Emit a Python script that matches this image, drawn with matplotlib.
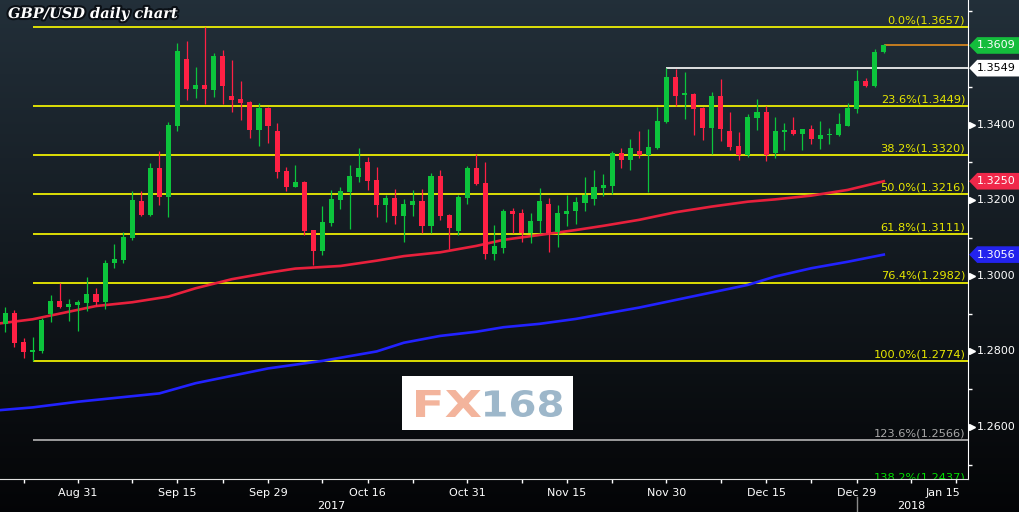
import numpy as np
import pandas as pd
import matplotlib
matplotlib.use('Agg')
import matplotlib.pyplot as plt
import matplotlib.patheffects as pe
from matplotlib.patches import Polygon, Rectangle, PathPatch
from matplotlib.textpath import TextPath
from matplotlib.font_manager import FontProperties
from matplotlib.transforms import blended_transform_factory, Affine2D

# GBP/USD daily candles, 21 Aug 2017 - 3 Jan 2018
opens = [1.2872, 1.2901, 1.2824, 1.2799, 1.2800, 1.2899, 1.2933, 1.2917, 1.2924, 1.2929,
         1.2952, 1.2931, 1.3034, 1.3042, 1.3101, 1.3198, 1.3161, 1.3285, 1.3209, 1.3397,
         1.3573, 1.3495, 1.3504, 1.3492, 1.3581, 1.3475, 1.3467, 1.3459, 1.3385, 1.3444,
         1.3383, 1.3277, 1.3236, 1.3248, 1.3121, 1.3066, 1.3140, 1.3200, 1.3222, 1.3261,
         1.3301, 1.3253, 1.3187, 1.3206, 1.3158, 1.3187, 1.3198, 1.3132, 1.3264, 1.3161,
         1.3118, 1.3206, 1.3285, 1.3245, 1.3058, 1.3073, 1.3171, 1.3166, 1.3113, 1.3145,
         1.3190, 1.3116, 1.3163, 1.3171, 1.3192, 1.3203, 1.3232, 1.3237, 1.3325, 1.3306,
         1.3330, 1.3319, 1.3338, 1.3407, 1.3526, 1.3479, 1.3481, 1.3444, 1.3391, 1.3475,
         1.3383, 1.3343, 1.3319, 1.3417, 1.3433, 1.3325, 1.3380, 1.3385, 1.3375, 1.3388,
         1.3362, 1.3372, 1.3372, 1.3396, 1.3441, 1.3515, 1.3502, 1.3592]
highs = [1.2917, 1.2910, 1.2836, 1.2839, 1.2888, 1.2949, 1.2982, 1.2939, 1.2936, 1.2997,
         1.2967, 1.3041, 1.3084, 1.3115, 1.3224, 1.3224, 1.3298, 1.3330, 1.3406, 1.3615,
         1.3621, 1.3551, 1.3657, 1.3588, 1.3597, 1.3571, 1.3515, 1.3462, 1.3457, 1.3445,
         1.3404, 1.3288, 1.3293, 1.3251, 1.3122, 1.3185, 1.3227, 1.3235, 1.3293, 1.3338,
         1.3314, 1.3288, 1.3214, 1.3229, 1.3203, 1.3227, 1.3229, 1.3272, 1.3280, 1.3163,
         1.3214, 1.3290, 1.3322, 1.3301, 1.3134, 1.3177, 1.3179, 1.3177, 1.3166, 1.3232,
         1.3206, 1.3187, 1.3214, 1.3208, 1.3261, 1.3280, 1.3269, 1.3330, 1.3338, 1.3362,
         1.3383, 1.3388, 1.3446, 1.3549, 1.3548, 1.3539, 1.3483, 1.3446, 1.3486, 1.3520,
         1.3433, 1.3380, 1.3428, 1.3467, 1.3449, 1.3420, 1.3404, 1.3420, 1.3388, 1.3399,
         1.3409, 1.3391, 1.3430, 1.3457, 1.3544, 1.3523, 1.3600, 1.3613]
lows = [1.2852, 1.2813, 1.2782, 1.2774, 1.2797, 1.2877, 1.2915, 1.2880, 1.2854, 1.2907,
        1.2920, 1.2911, 1.3021, 1.3035, 1.3095, 1.3158, 1.3158, 1.3187, 1.3156, 1.3384,
        1.3466, 1.3471, 1.3455, 1.3473, 1.3453, 1.3434, 1.3412, 1.3364, 1.3344, 1.3352,
        1.3259, 1.3224, 1.3234, 1.3109, 1.3029, 1.3055, 1.3132, 1.3177, 1.3124, 1.3248,
        1.3227, 1.3155, 1.3142, 1.3137, 1.3089, 1.3158, 1.3113, 1.3113, 1.3148, 1.3071,
        1.3108, 1.3190, 1.3241, 1.3044, 1.3042, 1.3060, 1.3113, 1.3089, 1.3087, 1.3113,
        1.3063, 1.3076, 1.3132, 1.3137, 1.3171, 1.3187, 1.3211, 1.3216, 1.3285, 1.3280,
        1.3311, 1.3222, 1.3336, 1.3405, 1.3449, 1.3415, 1.3372, 1.3359, 1.3322, 1.3356,
        1.3333, 1.3306, 1.3314, 1.3385, 1.3303, 1.3311, 1.3333, 1.3372, 1.3333, 1.3348,
        1.3335, 1.3348, 1.3370, 1.3395, 1.3430, 1.3500, 1.3500, 1.3589]
closes = [1.2901, 1.2823, 1.2799, 1.2801, 1.2883, 1.2933, 1.2917, 1.2925, 1.2931, 1.2952,
          1.2931, 1.3034, 1.3044, 1.3103, 1.3200, 1.3161, 1.3285, 1.3209, 1.3399, 1.3594,
          1.3495, 1.3504, 1.3495, 1.3581, 1.3503, 1.3466, 1.3457, 1.3385, 1.3444, 1.3396,
          1.3274, 1.3236, 1.3248, 1.3119, 1.3066, 1.3142, 1.3203, 1.3224, 1.3264, 1.3285,
          1.3251, 1.3187, 1.3206, 1.3158, 1.3190, 1.3198, 1.3132, 1.3264, 1.3158, 1.3126,
          1.3208, 1.3285, 1.3243, 1.3058, 1.3079, 1.3171, 1.3163, 1.3113, 1.3145, 1.3198,
          1.3113, 1.3166, 1.3171, 1.3195, 1.3214, 1.3235, 1.3240, 1.3325, 1.3306, 1.3338,
          1.3319, 1.3341, 1.3409, 1.3526, 1.3475, 1.3481, 1.3441, 1.3391, 1.3475, 1.3388,
          1.3341, 1.3319, 1.3420, 1.3433, 1.3319, 1.3383, 1.3385, 1.3375, 1.3388, 1.3362,
          1.3372, 1.3376, 1.3401, 1.3444, 1.3515, 1.3502, 1.3592, 1.3609]

# moving averages read at sample candles
ma_red_idx = [-1, 3, 7, 10, 14, 18, 21, 25, 29, 32, 37, 41, 44, 48, 52, 55, 59, 63, 66,
              70, 74, 78, 82, 85, 89, 93, 97]
ma_red_val = [1.2873, 1.2885, 1.2905, 1.2920, 1.2930, 1.2945, 1.2967, 1.2991, 1.3008, 1.3019,
              1.3026, 1.3040, 1.3052, 1.3062, 1.3079, 1.3095, 1.3108, 1.3121, 1.3132,
              1.3148, 1.3168, 1.3183, 1.3196, 1.3202, 1.3212, 1.3227, 1.3250]
ma_blue_idx = [-1, 3, 8, 17, 21, 29, 35, 41, 44, 48, 52, 55, 59, 63, 66, 70, 74, 82, 85,
               89, 93, 97]
ma_blue_val = [1.2644, 1.2652, 1.2667, 1.2689, 1.2716, 1.2755, 1.2775, 1.2800, 1.2823, 1.2841,
               1.2852, 1.2864, 1.2873, 1.2886, 1.2899, 1.2916, 1.2936, 1.2976, 1.2998,
               1.3020, 1.3037, 1.3056]

fib_pct = ['0.0%', '23.6%', '38.2%', '50.0%', '61.8%', '76.4%', '100.0%', '123.6%', '138.2%']
fib_val = [1.3657, 1.3449, 1.3320, 1.3216, 1.3111, 1.2982, 1.2774, 1.2566, 1.2437]
fib_col = ['#ffff00'] * 7 + ['#b4b4b4', '#00e000']
fib_txt = ['#e8e800'] * 7 + ['#a8a8a8', '#00e000']

tag_vals = [1.3609, 1.3549, 1.3250, 1.3056]
tag_fc = ['#14bd3c', '#ffffff', '#f0284a', '#2323ee']
tag_tc = ['white', 'black', 'white', 'white']

y_labels = [1.26, 1.28, 1.30, 1.32, 1.34]
y_minor = [1.25, 1.27, 1.29, 1.31, 1.33, 1.35, 1.37]

tick_dates = ['2017-08-31', '2017-09-15', '2017-09-29', '2017-10-16', '2017-10-31',
              '2017-11-15', '2017-11-30', '2017-12-15', '2017-12-29', '2018-01-15']
tick_text = ['Aug 31', 'Sep 15', 'Sep 29', 'Oct 16', 'Oct 31',
             'Nov 15', 'Nov 30', 'Dec 15', 'Dec 29', 'Jan 15']
minor_dates = ['2017-08-23', '2017-09-08', '2017-09-22', '2017-10-09', '2017-10-23',
               '2017-11-08', '2017-11-22', '2017-12-08', '2017-12-22', '2018-01-08']
year_dates = ['2017-10-10', '2018-01-08']
year_text = ['2017', '2018']

GREEN = '#0cc43c'
RED = '#ff2044'

dates = pd.bdate_range('2017-08-21', '2018-01-19')
x = np.arange(len(opens))
o, h, l, c = map(np.array, (opens, highs, lows, closes))

fig = plt.figure(figsize=(10.2, 5.12), dpi=100)

# background gradient
bg = fig.add_axes([0, 0, 1, 1], zorder=-10)
top = np.array([0.135, 0.185, 0.225])
bot = np.array([0.015, 0.018, 0.025])
t = np.linspace(0, 1, 256)[:, None]
grad = (top * (1 - t) + bot * t)[:, None, :]
bg.imshow(grad, aspect='auto', extent=[0, 1, 0, 1])
bg.axis('off')

ax = fig.add_axes([0, 33 / 512, 968 / 1020, 479 / 512])
ax.patch.set_alpha(0)
ax.set_xlim(-0.6, 106.3)
ax.set_ylim(1.24627, 1.37292)
yt = blended_transform_factory(ax.transAxes, ax.transData)
xt = blended_transform_factory(ax.transData, ax.transAxes)

# fibonacci levels
for pct, v, lc, tc in zip(fib_pct, fib_val, fib_col, fib_txt):
    ax.hlines(v, 3, 106.3, color=lc, lw=1.2, zorder=1)
    dy = 4.5 if pct == '138.2%' else 1.2
    ann = ax.annotate(f'{pct}({v:.4f})', xy=(1.0, v), xycoords=yt, xytext=(-2, dy),
                      textcoords='offset points', ha='right', va='bottom', color=tc,
                      fontsize=8.2, family='DejaVu Sans', annotation_clip=False, zorder=3)
    ann.set_clip_on(True)
    ann.set_clip_box(ax.bbox)

ax.hlines(tag_vals[1], 73, 106.3, color='white', lw=1.2, zorder=2)
ax.hlines(tag_vals[0], 97, 106.3, color='#e08a1e', lw=1.2, zorder=2)

# moving averages
ax.plot(ma_red_idx, ma_red_val, color='#e8203c', lw=1.9, zorder=2)
ax.plot(ma_blue_idx, ma_blue_val, color='#2222ff', lw=1.9, zorder=2)

# candles
up = c >= o
cols = np.where(up, GREEN, RED)
ax.vlines(x, l, h, colors=cols, lw=0.9, zorder=4)
body = np.maximum(np.abs(c - o), 0.0004)
ax.bar(x, body, bottom=np.minimum(o, c), width=0.56, color=cols, zorder=5)

# axes styling
for s in ['top', 'left']:
    ax.spines[s].set_visible(False)
ax.spines['right'].set_color('white')
ax.spines['bottom'].set_color('#e0e0e0')
ax.yaxis.tick_right()
ax.set_yticks(y_minor)
ax.set_yticklabels([])
ax.tick_params(axis='y', length=3, color='white', width=1)
tick_pos = dates.get_indexer(pd.to_datetime(tick_dates))
minor_pos = dates.get_indexer(pd.to_datetime(minor_dates))
ax.set_xticks(np.concatenate([tick_pos, minor_pos]))
ax.set_xticklabels([])
ax.tick_params(axis='x', length=3, color='white', width=1)

for p, s in zip(tick_pos, tick_text):
    if s == 'Jan 15':
        ax.text(p + 0.5, -0.029, s, transform=xt, ha='right', va='center',
                color='white', fontsize=8, family='DejaVu Sans')
    else:
        ax.text(p, -0.029, s, transform=xt, ha='center', va='center',
                color='white', fontsize=8, family='DejaVu Sans')
for d, s in zip(year_dates, year_text):
    p = dates.get_loc(pd.Timestamp(d))
    ax.text(p, -0.057, s, transform=xt, ha='center', va='center',
            color='white', fontsize=8, family='DejaVu Sans')
sep = dates.get_loc(pd.Timestamp('2017-12-29'))
ax.plot([sep, sep], [-0.038, -0.075], transform=xt, color='#8a8a8a', lw=1, clip_on=False)

# right axis labels
ax.plot([1.0045] * len(y_labels), y_labels, transform=yt, ls='none', marker='>',
        ms=4, color='white', clip_on=False)
for v in y_labels:
    ax.text(1.0095, v, f'{v:.4f}', transform=yt, ha='left', va='center',
            color='white', fontsize=8, family='DejaVu Sans')

# price tags
hh = 0.0022
for v, fc, tc in zip(tag_vals, tag_fc, tag_tc):
    poly = Polygon([(1.0012, v), (1.0095, v + hh), (1.07, v + hh), (1.07, v - hh),
                    (1.0095, v - hh)], closed=True, transform=yt, fc=fc, ec='none',
                   clip_on=False, zorder=6)
    ax.add_patch(poly)
    ax.text(1.0095, v, f'{v:.4f}', transform=yt, ha='left', va='center',
            color=tc, fontsize=8, family='DejaVu Sans', zorder=7)

# title
fig.text(8 / 1020, 1 - 14 / 512, 'GBP/USD daily chart', ha='left', va='center',
         color='white', fontsize=10.5, family='DejaVu Serif', weight='bold', style='italic',
         path_effects=[pe.withStroke(linewidth=3, foreground='#0b1016')])

# FX168 watermark
fig.add_artist(Rectangle((402 / 1020, 1 - 430 / 512), 171 / 1020, 54 / 512,
                         transform=fig.transFigure, fc='white', ec='none', zorder=8))
fp = FontProperties(family='DejaVu Sans', weight='bold')
for s, box, col in [('FX', (416, 390, 481, 417), '#f3b49c'),
                    ('168', (485, 390, 562, 417), '#9db7ca')]:
    tp = TextPath((0, 0), s, size=100, prop=fp)
    ext = tp.get_extents()
    sx = (box[2] - box[0]) / ext.width
    sy = (box[3] - box[1]) / ext.height
    tr = Affine2D().translate(-ext.x0, -ext.y0).scale(sx, sy).translate(box[0], 512 - box[3])
    fig.add_artist(PathPatch(tp, transform=tr, fc=col, ec='none', zorder=9))

fig.savefig('out.png', dpi=100)
